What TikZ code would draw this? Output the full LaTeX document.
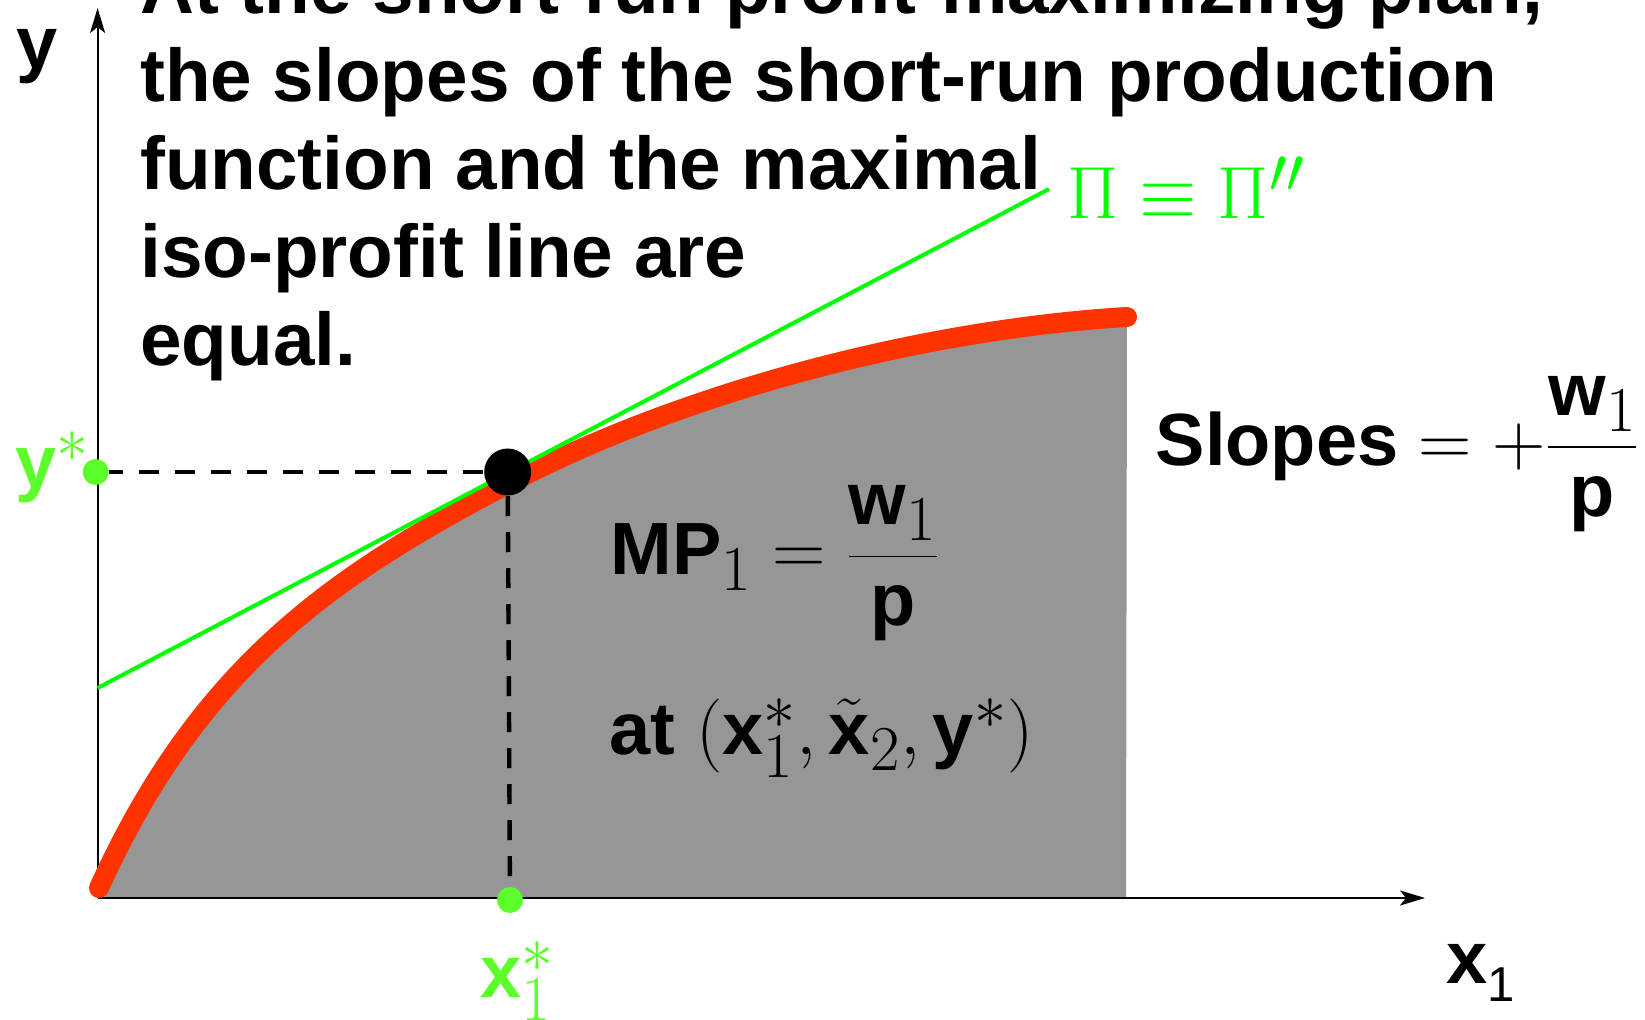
\RequirePackage{fix-cm}
\documentclass[tikz,border=0pt]{standalone}
\usepackage{amsmath}
\usepackage[no-math]{fontspec}
\setmainfont{Liberation Sans}
\usetikzlibrary{arrows.meta}
\DeclareMathSizes{37}{37}{32}{26}
\newcommand{\slidefont}{\fontsize{37}{44}\selectfont\bfseries}
\definecolor{prodred}{RGB}{255,51,0}
\definecolor{isogreen}{RGB}{0,255,0}
\definecolor{stargreen}{RGB}{92,255,42}
\definecolor{areagray}{RGB}{150,150,150}
\tikzset{every picture/.style={line width=0.75pt}}
\tikzset{
txt/.style={font=\slidefont, inner sep=0pt},
axisline/.style={line width=1pt, -{Stealth[length=12.5pt,width=7.5pt,inset=3pt]}},
prodline/.style={line width=10pt, draw=prodred, line cap=round},
isoline/.style={line width=2pt, draw=isogreen},
guide/.style={line width=2.2pt, dash pattern=on 10pt off 8pt},
optdot/.style={circle, fill=black, inner sep=0pt, minimum size=23.5pt},
stardot/.style={circle, fill=stargreen, inner sep=0pt, minimum size=13pt}}

\begin{document}
\begin{tikzpicture}[x=0.5pt,y=0.5pt,yscale=-1]
\useasboundingbox (0,0) rectangle (1645,1020);
\clip (0,0) rectangle (1645,1020);

%Shape: Area under curve
\fill[areagray] (98,898) -- (99,888) .. controls (198,670) and (327.7,578.3) .. (507.7,484) .. controls (687.7,389.7) and (927,329) .. (1127,317) -- (1126,898) -- cycle;
%Straight Lines: axes
\coordinate (O) at (97.6,898);
\coordinate (ytop) at (97.6,8);
\coordinate (xend) at (1425,898);
\draw[axisline] (O) -- (ytop);
\draw[axisline] (O) -- (xend);
%Curve: production function
\draw[prodline] (99,888) .. controls (198,670) and (327.7,578.3) .. (507.7,484) .. controls (687.7,389.7) and (927,329) .. (1127,317);
%Straight Lines: iso-profit line
\coordinate (isoL) at (97.6,688);
\coordinate (isoR) at (1049,189);
\draw[isoline] (isoL) -- (isoR);

%Shape: Circles
\node[stardot] (ydot) at (95.7,472) {};
\node[stardot] (xdot) at (510,900) {};
\node[optdot] (opt) at (507.7,472) {};
%Straight Lines: dashed guides
\draw[guide] (opt) -- (ydot);
\draw[guide] (opt) -- (xdot);

% Text Node
\node[txt, font=\fontsize{37.35}{44}\selectfont\bfseries, anchor=base west, align=left] (note) at (139.5,365.8) {At the short-run profit-maximizing plan,\\the slopes of the short-run production\\function and the maximal\\iso-profit line are\\equal.};
% Text Node
\node[txt, anchor=base west] (ylab) at (15.7,68.5) {y};
% Text Node
\node[txt, anchor=base west] (xlab) at (1445.6,984) {x\raisebox{-9pt}{\fontsize{24.5}{24.5}\selectfont\mdseries 1}};
% Text Node
\node[txt, anchor=base west, text=isogreen] (pilab) at (1067,219) {$\Pi\equiv\Pi''$};
% Text Node
\node[txt, anchor=base west, text=stargreen] (ystarlab) at (14.7,488) {$\mbox{y}^{*}$};
% Text Node
\node[txt, anchor=base west, text=stargreen] (xstarlab) at (480,998) {$\mbox{x}_{1}^{*}$};
% Text Node
\node[txt, anchor=base west] (slopes) at (1155,466) {Slopes $=+\dfrac{\mbox{w}_{1}}{\mbox{p}}$};
% Text Node
\node[txt, anchor=base west] (mp) at (610,575) {$\mbox{MP}_{1}=\dfrac{\mbox{w}_{1}}{\mbox{p}}$};
% Text Node
\node[txt, anchor=base west] (atpt) at (609,755) {at $(\mbox{x}_{1}^{*},\tilde{\mbox{x}}_{2},\mbox{y}^{*})$};

\end{tikzpicture}
\end{document}
